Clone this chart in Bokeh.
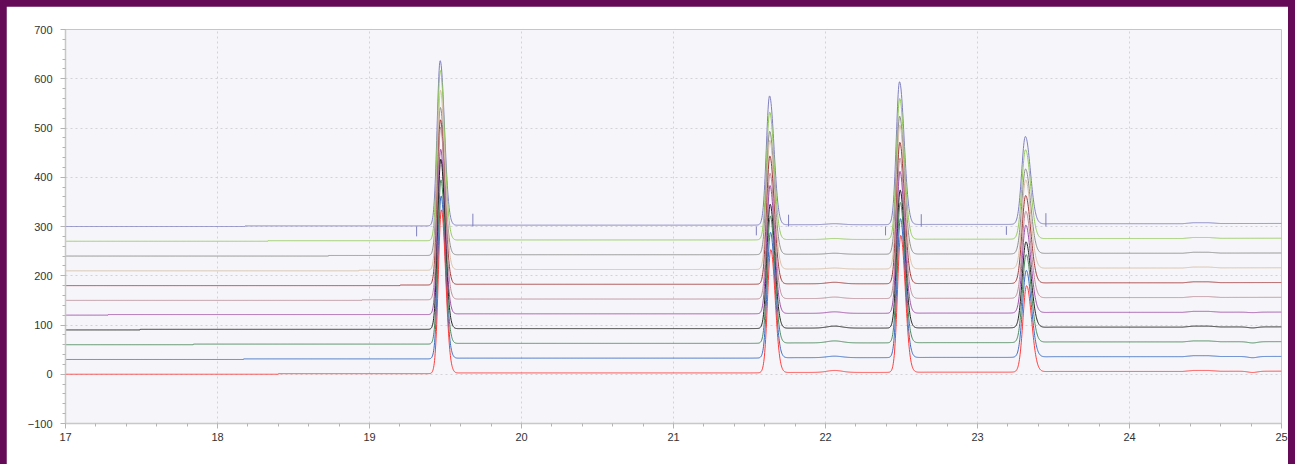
import numpy as np
from bokeh.plotting import figure
from bokeh.models import Range1d, SingleIntervalTicker, GlobalInlineStyleSheet
from bokeh.embed import file_html
from bokeh.resources import INLINE

# ---------------- data ----------------
# traces listed bottom (red) to top (lavender); baseline offset of each trace
trace_offsets = [0, 30, 60, 90, 120, 150, 180, 210, 240, 270, 300]
# retention times of the four peaks
peak_times = [19.468, 21.635, 22.49, 23.318]
# small per-trace retention shifts
time_shift = [0.005, 0.003, 0.002, 0.001, 0.0, 0.0, -0.001, -0.001, -0.002, -0.002, -0.003]
# peak heights above the baseline, per trace (bottom -> top)
peak1_heights = [332, 330, 333, 345, 335, 350, 335, 365, 300, 345, 335]
peak2_heights = [250, 255, 258, 252, 260, 255, 260, 262, 250, 259, 262]
peak3_heights = [278, 282, 285, 280, 288, 285, 287, 292, 280, 286, 290]
peak4_heights = [175, 176, 178, 174, 178, 176, 178, 180, 172, 181, 178]
# peak half-widths (left / right side, minutes)
peak_sigma_left = [0.020, 0.021, 0.021, 0.024]
peak_sigma_right = [0.028, 0.029, 0.030, 0.033]
# small baseline step seen on each trace before the first peak (time)
step_times = [18.40, 18.17, 17.84, 17.49, 17.28, 18.95, 19.20, 18.93, 18.73, 18.33, 18.18]
# baseline drift knots shared by all traces
drift_times = [17.0, 19.40, 19.60, 21.50, 21.80, 22.35, 22.70, 23.20, 23.50, 24.35, 24.42, 24.52, 24.60, 25.0]
drift_values = [0.0, 0.0, 1.5, 1.5, 2.5, 2.5, 3.0, 3.0, 4.5, 4.5, 6.5, 6.5, 4.8, 5.0]
# small bump near 22.05 (amplitude per trace) and dip near 24.8 (lower traces)
bump_amp = [4, 3, 4, 4, 3, 3, 3, 2, 2, 2, 2]
dip_amp = [-2.5, -2.5, -2.5, -2, -1, 0, 0, 0, 0, 0, 0]
# integration markers on the top trace
marker_times = [19.31, 19.68, 21.545, 21.757, 22.395, 22.63, 23.19, 23.45]
marker_ends = [280, 326, 282, 324, 282, 325, 283, 327]

trace_colors = ["#ff3b3b", "#3b6cc2", "#4a875a", "#222222", "#a050a8", "#bb8c96",
                "#a33b3b", "#d6bea6", "#8c8c8c", "#94c95a", "#7f7fbf"]

x_ticks_range = (17, 25)
y_ticks_range = (-100, 700)

# ---------------- build curves ----------------
t = np.arange(17.0, 25.0005, 0.002)
heights = [peak1_heights, peak2_heights, peak3_heights, peak4_heights]


def peak(x, c, h, sl, sr):
    s = np.where(x < c, sl, sr)
    return h * np.exp(-0.5 * ((x - c) / s) ** 2)


curves = []
for i, off in enumerate(trace_offsets):
    y = off + np.interp(t, drift_times, drift_values)
    y = y + np.where(t > step_times[i], 1.2, 0.0)
    y = y + bump_amp[i] * np.exp(-0.5 * ((t - 22.06) / 0.05) ** 2)
    y = y + dip_amp[i] * np.exp(-0.5 * ((t - 24.81) / 0.03) ** 2)
    for k, c in enumerate(peak_times):
        y = y + peak(t, c + time_shift[i], heights[k][i], peak_sigma_left[k], peak_sigma_right[k])
    curves.append(y)

# ---------------- figure ----------------
p = figure(width=1282, height=458, output_backend="svg", toolbar_location=None,
           x_range=Range1d(*x_ticks_range), y_range=Range1d(*y_ticks_range),
           min_border_left=59, min_border_right=7, min_border_top=23, min_border_bottom=41)
p.stylesheets = [GlobalInlineStyleSheet(css="html,body{background:#650a56;margin:0;overflow:hidden;} body{padding:6px 7px 0 6px;}")]
p.background_fill_color = "#f6f6fa"
p.border_fill_color = "#ffffff"
p.outline_line_color = None

for ax, interval in ((p.xaxis[0], 1), (p.yaxis[0], 100)):
    ax.ticker = SingleIntervalTicker(interval=interval, num_minor_ticks=5)
    ax.axis_line_color = "#c8c8c8"
    ax.axis_line_width = 1.5
    ax.major_tick_line_color = "#b4b4b4"
    ax.minor_tick_line_color = "#b4b4b4"
    ax.major_tick_in = 0
    ax.major_tick_out = 5
    ax.minor_tick_in = 0
    ax.minor_tick_out = 3
    ax.major_label_text_font = "Liberation Sans"
    ax.major_label_text_font_size = "11px"
    ax.major_label_text_color = "#333333"
p.yaxis[0].major_label_standoff = 8
p.xaxis[0].major_label_standoff = 4

for g in (p.xgrid[0], p.ygrid[0]):
    g.grid_line_color = "#d2d2d8"
    g.grid_line_dash = "2 3"
    g.grid_line_width = 1

# draw top trace first so the lower ones sit in front
for i in reversed(range(len(trace_offsets))):
    p.line(t, curves[i], line_color=trace_colors[i], line_width=1)

p.segment(x0=marker_times, y0=[trace_offsets[-1]] * len(marker_times),
          x1=marker_times, y1=marker_ends, line_color="#7f7fbf", line_width=1)

open("out.html", "w").write(file_html(p, INLINE))
